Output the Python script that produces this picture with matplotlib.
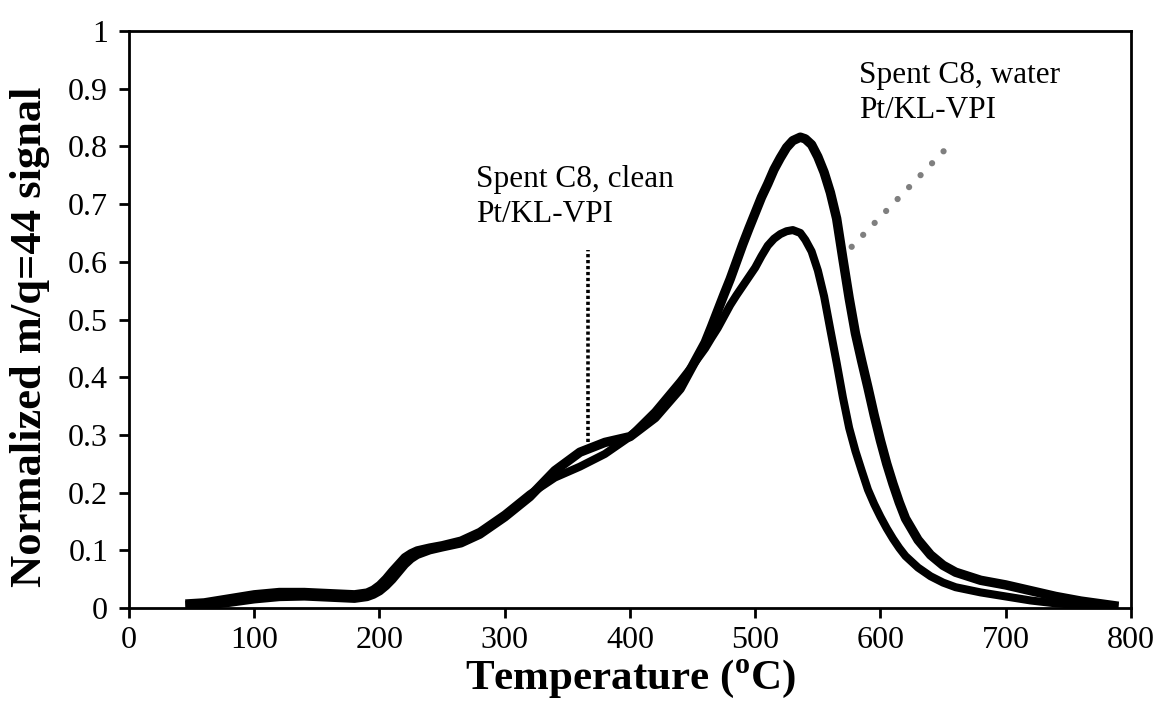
import numpy as np
import matplotlib.pyplot as plt

# TPO profiles (temperature in C, normalised signal)
temp = [45, 60, 80, 100, 120, 140, 160, 180, 190, 195, 200, 205, 210, 215, 220, 225, 230,
        240, 250, 265, 280, 300, 320, 340, 360, 380, 400, 420, 440,
        450, 455, 460, 465, 470, 475, 480, 485, 490, 495, 500, 505, 510, 515, 520, 525, 530, 536,
        540, 545, 550, 555, 560, 565, 570, 575, 580, 585, 590, 595, 600, 605, 610, 615, 620, 630,
        640, 650, 660, 680, 700, 720, 740, 760, 790]

clean = [0.008, 0.010, 0.017, 0.024, 0.028, 0.028, 0.026, 0.024, 0.027, 0.032, 0.040, 0.051, 0.064, 0.076, 0.088, 0.095, 0.100,
         0.105, 0.109, 0.117, 0.132, 0.162, 0.197, 0.226, 0.245, 0.267, 0.297, 0.340, 0.392,
         0.420, 0.435, 0.450, 0.468, 0.485, 0.505, 0.525, 0.542, 0.558, 0.574, 0.590, 0.610, 0.628, 0.640, 0.648, 0.653, 0.655, 0.650,
         0.638, 0.618, 0.585, 0.540, 0.482, 0.425, 0.365, 0.312, 0.272, 0.238, 0.205, 0.180, 0.158, 0.138, 0.120, 0.104, 0.090, 0.070,
         0.055, 0.044, 0.036, 0.027, 0.020, 0.013, 0.008, 0.005, 0.002]

water = [0.004, 0.005, 0.010, 0.016, 0.020, 0.021, 0.019, 0.017, 0.020, 0.024, 0.030, 0.039, 0.050, 0.063, 0.076, 0.086, 0.093,
         0.101, 0.106, 0.113, 0.128, 0.158, 0.193, 0.238, 0.270, 0.287, 0.297, 0.330, 0.380,
         0.420, 0.440, 0.460, 0.487, 0.515, 0.543, 0.570, 0.600, 0.630, 0.658, 0.685, 0.712, 0.735, 0.760, 0.780, 0.798, 0.810, 0.816,
         0.813, 0.803, 0.782, 0.755, 0.720, 0.675, 0.605, 0.537, 0.476, 0.428, 0.382, 0.334, 0.290, 0.250, 0.215, 0.183, 0.155, 0.118,
         0.092, 0.074, 0.062, 0.048, 0.040, 0.030, 0.020, 0.012, 0.003]

plt.rcParams['font.family'] = ['Liberation Serif', 'DejaVu Serif']

fig = plt.figure(figsize=(11.57, 7.05), dpi=100)
ax = fig.add_axes([0.1115, 0.1376, 0.866, 0.8184])

ax.plot(temp, water, color='black', lw=6.8, solid_joinstyle='round', solid_capstyle='butt')
ax.plot(temp, clean, color='black', lw=5.8, solid_joinstyle='round', solid_capstyle='butt')

# leader lines for the labels
ax.plot([366.5, 366.5], [0.288, 0.621], color='black', lw=2.6, linestyle=(0, (0.9, 0.75)))
ax.plot([577, 651], [0.626, 0.793], color='#7f7f7f', lw=4.5,
        linestyle=(0, (0.01, 2.64)), dash_capstyle='round')

ax.text(277, 0.768, 'Spent C8, clean\nPt/KL-VPI', fontsize=22.5, va='top', ha='left',
        linespacing=1.3)
ax.text(583, 0.9475, 'Spent C8, water\nPt/KL-VPI', fontsize=22.5, va='top', ha='left',
        linespacing=1.25)

ax.set_xlim(0, 800)
ax.set_ylim(0, 1)
ax.set_xticks(np.arange(0, 801, 100))
ax.set_yticks(np.arange(0, 1.01, 0.1))
ax.set_yticklabels(['0', '0.1', '0.2', '0.3', '0.4', '0.5', '0.6', '0.7', '0.8', '0.9', '1'])

for s in ax.spines.values():
    s.set_linewidth(2)
ax.tick_params(direction='out', length=7, width=2, labelsize=23, top=False, right=False)
ax.tick_params(axis='y', pad=8)
ax.tick_params(axis='x', pad=6)

ax.set_xlabel('Temperature ($^{\\mathregular{o}}$C)', fontsize=31, fontweight='bold', labelpad=2)
ax.set_ylabel('Normalized m/q=44 signal', fontsize=32, fontweight='bold')
ax.yaxis.set_label_coords(-0.0785, 0.47)

fig.savefig('out.png', dpi=100)
